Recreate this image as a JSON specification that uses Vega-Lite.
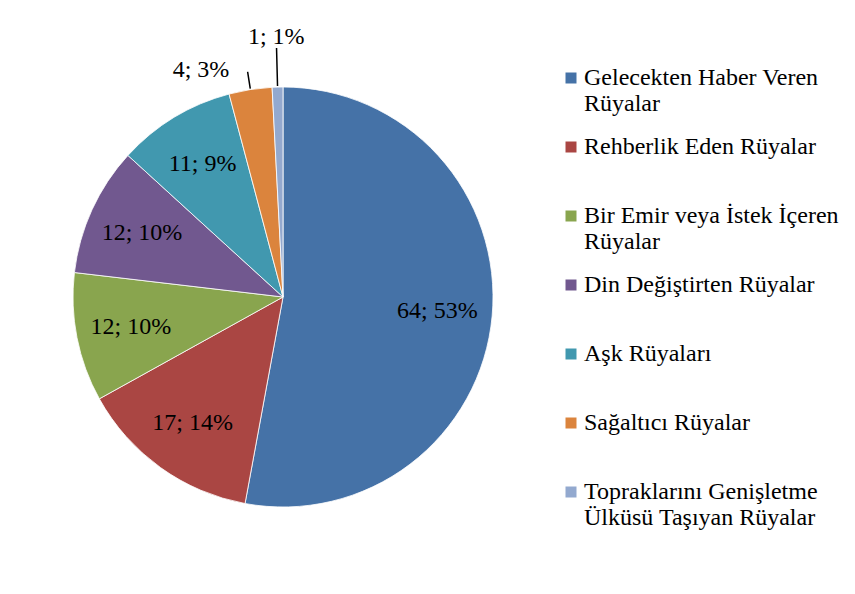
{
  "$schema": "https://vega.github.io/schema/vega-lite/v6.json",
  "width": 566,
  "height": 594,
  "padding": 0,
  "autosize": {"type": "pad"},
  "background": "white",
  "config": {"view": {"stroke": null}, "font": "Times New Roman, Liberation Serif, DejaVu Serif, serif"},
  "data": {"values": [
    {"i": 1, "category": "Gelecekten Haber Veren Rüyalar", "value": 64, "label": "64; 53%"},
    {"i": 2, "category": "Rehberlik Eden Rüyalar", "value": 17, "label": "17; 14%"},
    {"i": 3, "category": "Bir Emir veya İstek İçeren Rüyalar", "value": 12, "label": "12; 10%"},
    {"i": 4, "category": "Din Değiştirten Rüyalar", "value": 12, "label": "12; 10%"},
    {"i": 5, "category": "Aşk Rüyaları", "value": 11, "label": "11; 9%"},
    {"i": 6, "category": "Sağaltıcı Rüyalar", "value": 4, "label": "4; 3%"},
    {"i": 7, "category": "Topraklarını Genişletme Ülküsü Taşıyan Rüyalar", "value": 1, "label": "1; 1%"}
  ]},
  "encoding": {
    "theta": {"field": "value", "type": "quantitative", "stack": true},
    "order": {"field": "i", "type": "quantitative"}
  },
  "layer": [
    {
      "mark": {"type": "arc", "outerRadius": 210, "stroke": "white", "strokeWidth": 0.8},
      "encoding": {
        "color": {
          "field": "category",
          "type": "nominal",
          "scale": {
            "domain": ["Gelecekten Haber Veren Rüyalar", "Rehberlik Eden Rüyalar", "Bir Emir veya İstek İçeren Rüyalar", "Din Değiştirten Rüyalar", "Aşk Rüyaları", "Sağaltıcı Rüyalar", "Topraklarını Genişletme Ülküsü Taşıyan Rüyalar"],
            "range": ["#4572A7", "#AA4643", "#89A54E", "#71588F", "#4198AF", "#DB843D", "#93A9CF"]
          },
          "legend": {
            "title": null,
            "orient": "none",
            "legendX": 559,
            "legendY": 66,
            "padding": 0,
            "symbolType": "square",
            "symbolSize": 121,
            "symbolStrokeWidth": 0,
            "labelFont": "Times New Roman, Liberation Serif, DejaVu Serif, serif",
            "labelFontSize": 24,
            "labelColor": "black",
            "labelLimit": 400,
            "labelOffset": 1,
            "rowPadding": 19,
            "labelExpr": "datum.label == 'Gelecekten Haber Veren Rüyalar' ? ['Gelecekten Haber Veren', 'Rüyalar'] : datum.label == 'Bir Emir veya İstek İçeren Rüyalar' ? ['Bir Emir veya İstek İçeren', 'Rüyalar'] : datum.label == 'Topraklarını Genişletme Ülküsü Taşıyan Rüyalar' ? ['Topraklarını Genişletme', 'Ülküsü Taşıyan Rüyalar'] : [datum.label, '']",
            "encode": {"labels": {"update": {"lineHeight": {"value": 27}}}}
          }
        }
      }
    },
    {
      "mark": {"type": "text", "radius": 155, "fontSize": 24, "font": "Times New Roman, Liberation Serif, DejaVu Serif, serif", "color": "black"},
      "encoding": {
        "text": {"condition": {"test": "datum.value >= 5", "field": "label"}, "value": ""}
      }
    },
    {
      "mark": {"type": "text", "radius": 230, "align": "right", "dx": -18, "fontSize": 24, "font": "Times New Roman, Liberation Serif, DejaVu Serif, serif", "color": "black"},
      "encoding": {
        "text": {"condition": {"test": "datum.value == 4", "field": "label"}, "value": ""}
      }
    },
    {
      "mark": {"type": "text", "radius": 260, "fontSize": 24, "font": "Times New Roman, Liberation Serif, DejaVu Serif, serif", "color": "black"},
      "encoding": {
        "text": {"condition": {"test": "datum.value == 1", "field": "label"}, "value": ""}
      }
    },
    {
      "mark": {"type": "arc", "radius": 228, "radius2": 211, "padAngle": 0.5, "fill": "white", "fillOpacity": 0, "stroke": "black", "strokeWidth": 1.5},
      "encoding": {
        "strokeOpacity": {"condition": {"test": "datum.value == 4", "value": 1}, "value": 0}
      }
    },
    {
      "mark": {"type": "arc", "radius": 249, "radius2": 211, "padAngle": 0.5, "fill": "white", "fillOpacity": 0, "stroke": "black", "strokeWidth": 1.5},
      "encoding": {
        "strokeOpacity": {"condition": {"test": "datum.value == 1", "value": 1}, "value": 0}
      }
    }
  ]
}
